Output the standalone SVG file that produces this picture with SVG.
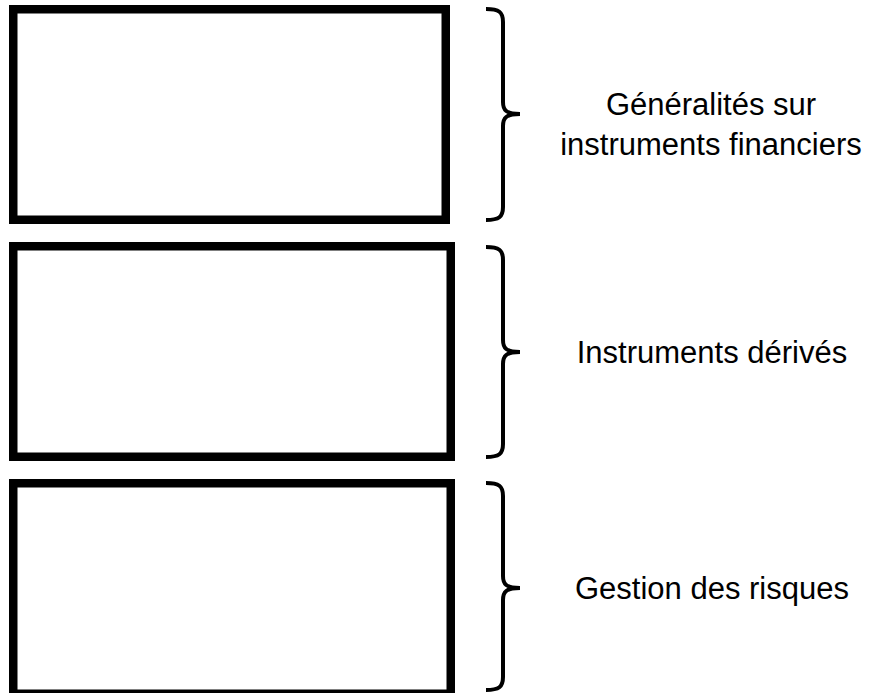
<svg xmlns="http://www.w3.org/2000/svg" width="869" height="693" viewBox="0 0 869 693">
<style>
.box{fill:#fff;stroke:#000;stroke-width:8.5}
.brace{fill:none;stroke:#000;stroke-width:4;stroke-linecap:butt}
.lbl{font-family:"Liberation Sans",Arial,sans-serif;font-size:31px;fill:#000;text-anchor:middle}
</style>
<rect width="869" height="693" fill="#fff"/>
<g id="box1"><rect class="box" x="13.25" y="9.25" width="432.5" height="210.5"/></g>
<g id="box2"><rect class="box" x="13.25" y="246.25" width="437.5" height="210.5"/></g>
<g id="box3"><rect class="box" x="13.25" y="483.25" width="437.5" height="210.5"/></g>
<g id="connectors">
<path class="brace" d="M486,9 C499,9 503,12 503,22 V102 C503,110 506,114 520,114 C506,114 503,118 503,126 V207 C503,217 499,220 486,220"/>
<path class="brace" d="M486,247 C499,247 503,250 503,260 V340 C503,348 506,352 520,352 C506,352 503,356 503,364 V444 C503,454 499,457 486,457"/>
<path class="brace" d="M486,483 C499,483 503,486 503,496 V576 C503,584 506,588 520,588 C506,588 503,592 503,600 V677 C503,687 499,690 486,690"/>
</g>
<g id="label1"><text class="lbl" x="711" y="115">Généralités sur</text><text class="lbl" x="711" y="155">instruments financiers</text></g>
<g id="label2"><text class="lbl" x="712" y="363">Instruments dérivés</text></g>
<g id="label3"><text class="lbl" x="712" y="599">Gestion des risques</text></g>
</svg>
